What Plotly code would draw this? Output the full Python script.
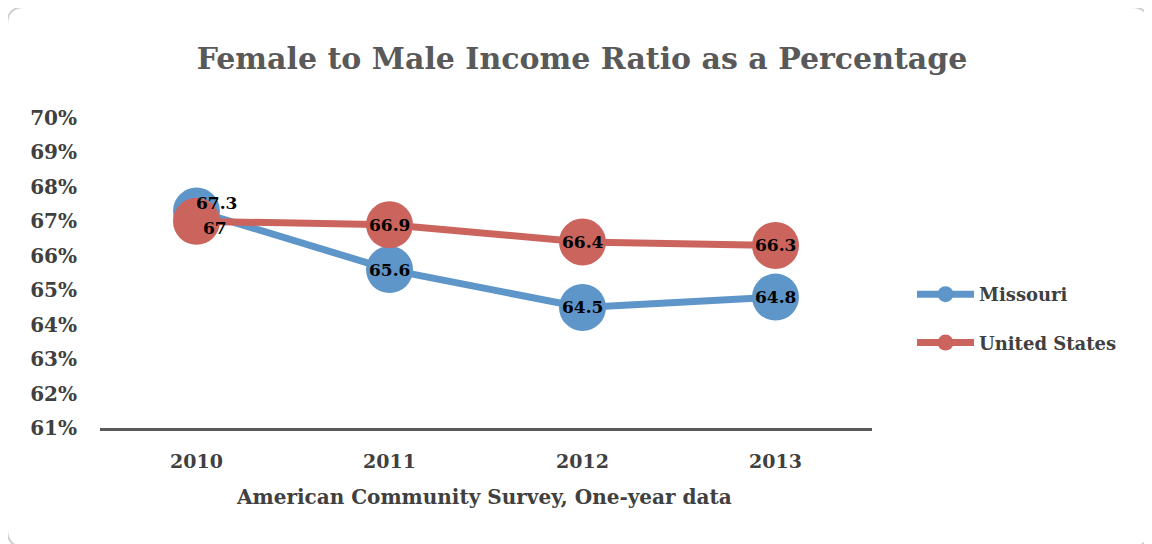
import plotly.graph_objects as go

years = ["2010", "2011", "2012", "2013"]
missouri = [67.3, 65.6, 64.5, 64.8]
united_states = [67.0, 66.9, 66.4, 66.3]
y_ticks = [0.61, 0.62, 0.63, 0.64, 0.65, 0.66, 0.67, 0.68, 0.69, 0.70]

BLUE = "#5E96CA"
RED = "#CC645E"
FONT = "DejaVu Serif"

# the page body has an 8px margin; compensate so that the figure lines up
OFF = 8
W, H = 1152 - OFF, 544 - OFF
PLOT_L, PLOT_R, PLOT_T, PLOT_B = 100 - OFF, 872 - OFF, 118 - OFF, 428 - OFF
ML, MR, MT, MB = PLOT_L, W - PLOT_R, PLOT_T, H - PLOT_B
PW, PH = PLOT_R - PLOT_L, PLOT_B - PLOT_T


def px_to_paper(px, py):
    """reference-image pixel -> paper coords"""
    return (px - OFF - ML) / PW, (PLOT_B - (py - OFF)) / PH


fig = go.Figure()
fig.add_trace(go.Scatter(
    x=years, y=[v / 100 for v in missouri], name="Missouri", mode="lines+markers",
    line=dict(color=BLUE, width=7), marker=dict(color=BLUE, size=47),
    legendgroup="a", hoverinfo="skip"))
fig.add_trace(go.Scatter(
    x=years, y=[v / 100 for v in united_states], name="United States", mode="lines+markers",
    line=dict(color=RED, width=7), marker=dict(color=RED, size=47),
    legendgroup="b", hoverinfo="skip"))

# data labels
shifts_mo = [(20, 8), (0, 0), (0, 0), (0, 0)]
shifts_us = [(18, -7), (0, 0), (0, 0), (0, 0)]
for vals, shifts in ((missouri, shifts_mo), (united_states, shifts_us)):
    for i, (v, (dx, dy)) in enumerate(zip(vals, shifts)):
        fig.add_annotation(xref="x", yref="y", x=i, y=v / 100, text=f"{v:g}",
                           showarrow=False, xshift=dx, yshift=dy,
                           font=dict(family=FONT, size=17, color="#000000", weight="bold"))

# x-axis title
fig.add_annotation(xref="paper", yref="paper", x=px_to_paper(484, 0)[0],
                   y=px_to_paper(0, 497)[1],
                   text="American Community Survey, One-year data", showarrow=False,
                   xanchor="center", yanchor="middle",
                   font=dict(family=FONT, size=20, color="#404040", weight="bold"))

# rounded border (bottom edge falls just outside the picture)
x0, y0 = px_to_paper(7, 7)
x1, y1 = px_to_paper(1149, 547)
r = 18
rx, ry = r / PW, r / PH
path = (f"M {x0+rx},{y0} L {x1-rx},{y0} Q {x1},{y0} {x1},{y0-ry} "
        f"L {x1},{y1+ry} Q {x1},{y1} {x1-rx},{y1} L {x0+rx},{y1} Q {x0},{y1} {x0},{y1+ry} "
        f"L {x0},{y0-ry} Q {x0},{y0} {x0+rx},{y0} Z")
fig.add_shape(type="path", xref="paper", yref="paper", path=path,
              line=dict(color="#D0D0D0", width=2), layer="below")

fig.update_layout(
    width=W, height=H,
    margin=dict(l=ML, r=MR, t=MT, b=MB),
    paper_bgcolor="white", plot_bgcolor="white",
    title=dict(text="Female to Male Income Ratio as a Percentage",
               x=(582 - OFF) / W, xanchor="center", y=1 - (58 - OFF) / H, yanchor="middle",
               font=dict(family=FONT, size=30, color="#595959", weight="bold")),
    showlegend=True,
    legend=dict(x=px_to_paper(912, 0)[0], y=px_to_paper(0, 276)[1],
                xanchor="left", yanchor="top", tracegroupgap=22, itemwidth=57,
                font=dict(family=FONT, size=18, color="#404040", weight="bold"),
                bgcolor="rgba(0,0,0,0)"),
    xaxis=dict(type="category", range=[-0.5, 3.5], showgrid=False, zeroline=False,
               showline=True, linecolor="#595959", linewidth=3, ticks="",
               ticklabelstandoff=14,
               tickfont=dict(family=FONT, size=19, color="#404040", weight="bold")),
    yaxis=dict(range=[0.61, 0.70], tickvals=y_ticks, tickformat=".0%", showgrid=False,
               zeroline=False, showline=False, ticks="", ticklabelstandoff=22,
               tickfont=dict(family=FONT, size=20, color="#404040", weight="bold")),
)

fig.write_html("out.html")
